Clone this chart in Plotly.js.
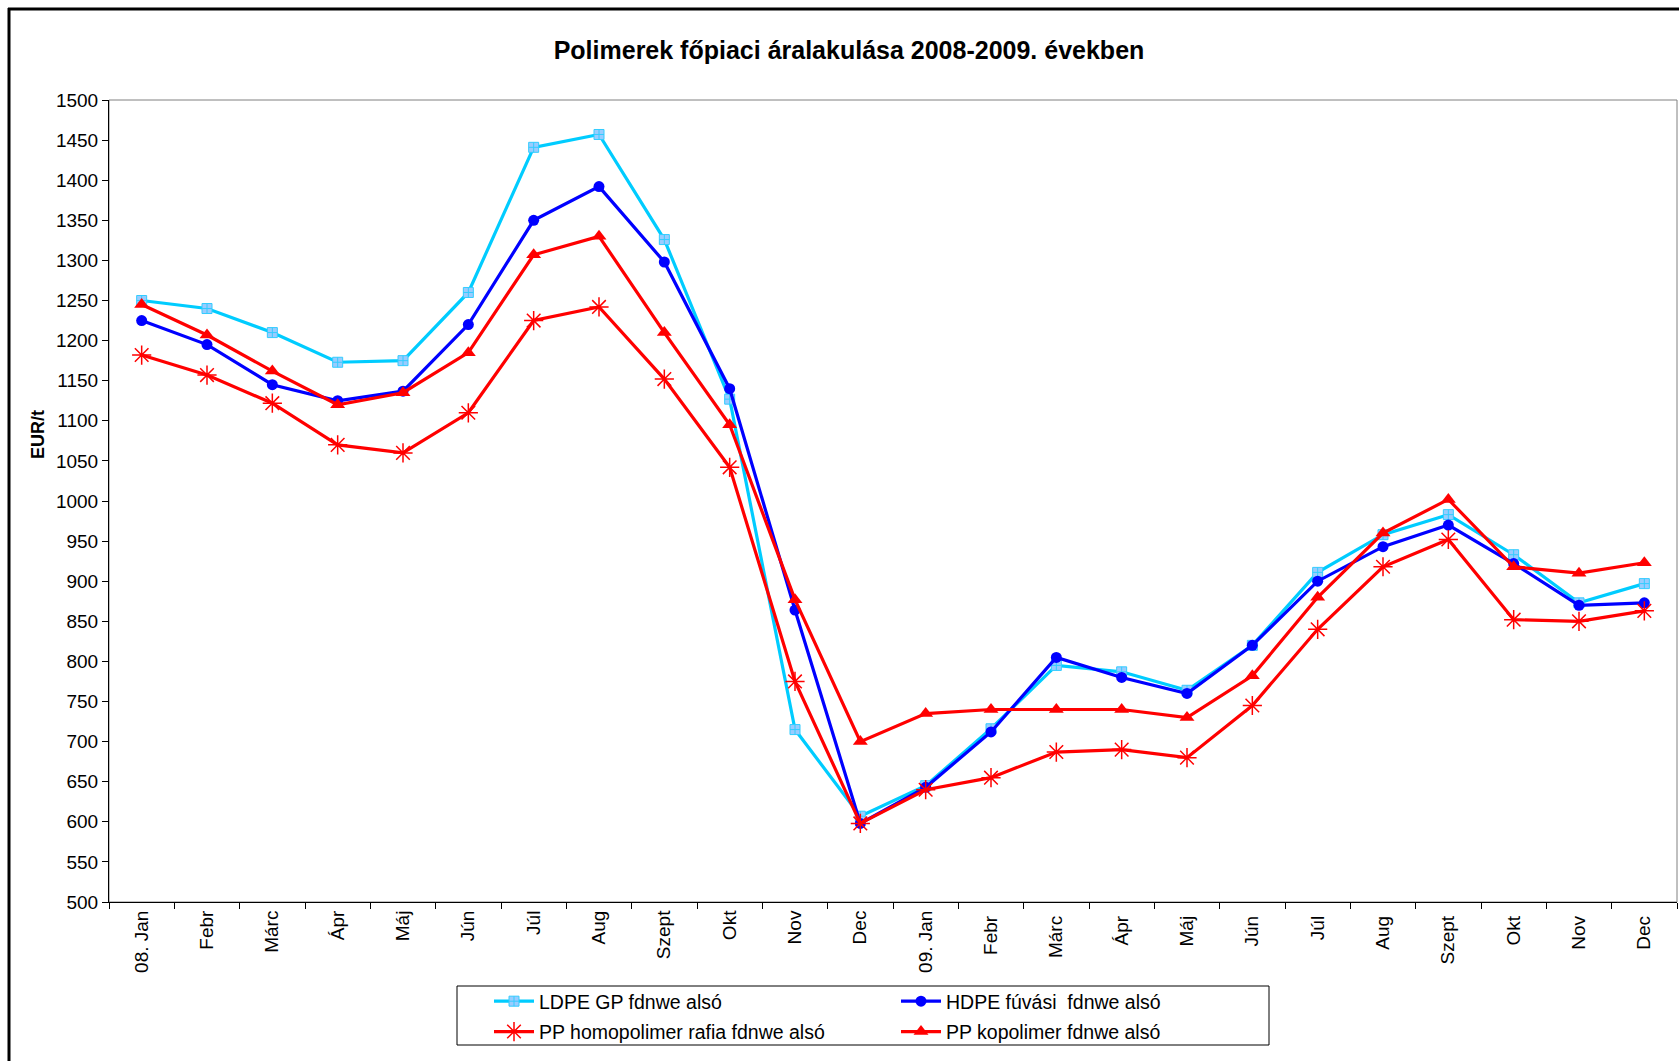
<!DOCTYPE html>
<html>
<head>
<meta charset="utf-8">
<script src="https://cdn.plot.ly/plotly-3.0.1.min.js"></script>
<style>
html,body{margin:0;padding:0;background:#fff;}
#chart{width:1679px;height:1061px;}
</style>
</head>
<body>
<div id="chart"></div>
<script>
const categories = ["08. Jan","Febr","Márc","Ápr","Máj","Jún","Júl","Aug","Szept","Okt","Nov","Dec",
                    "09. Jan","Febr ","Márc ","Ápr ","Máj ","Jún ","Júl ","Aug ","Szept ","Okt ","Nov ","Dec "];
const ldpe   = [1250,1240,1210,1173,1175,1260,1441,1457,1326,1127,715,607, 645,716,795,787,764,820,911,958,983,933,873,897];
const hdpe   = [1225,1195,1145,1125,1137,1220,1350,1392,1298,1140,864,598, 643,712,805,780,760,820,900,943,970,922,870,873];
const ppHomo = [1182,1157,1122,1070,1060,1110,1225,1242,1152,1042,775,598, 640,655,687,690,680,745,840,918,952,852,850,863];
const ppKopo = [1245,1207,1162,1120,1135,1185,1307,1330,1210,1095,877,700, 735,740,740,740,730,782,880,960,1002,918,910,923];
const seriesNames = ["LDPE GP fdnwe alsó","HDPE fúvási  fdnwe alsó","PP homopolimer rafia fdnwe alsó","PP kopolimer fdnwe alsó"];
const yTicks = [500,550,600,650,700,750,800,850,900,950,1000,1050,1100,1150,1200,1250,1300,1350,1400,1450,1500];

const FONT = "'Liberation Sans', Arial, sans-serif";
const W = 1679, H = 1061;
const M = {l:109, r:2, t:100, b:159};
const pw = W - M.l - M.r, ph = H - M.t - M.b;
const px = x => (x - M.l) / pw;
const py = y => (H - M.b - y) / ph;

const traces = [
  {name: seriesNames[0], y: ldpe, legend: 'legend', legendgroup: 'a',
   line: {color: '#00CCFF', width: 3.2},
   marker: {symbol: 'square-cross', size: 10, color: '#99CCFF', line: {color: '#33CCFF', width: 1}}},
  {name: seriesNames[1], y: hdpe, legend: 'legend2', legendgroup: 'b',
   line: {color: '#0000FF', width: 3.2},
   marker: {symbol: 'circle', size: 11, color: '#0000FF'}},
  {name: seriesNames[2], y: ppHomo, legend: 'legend', legendgroup: 'c',
   line: {color: '#FF0000', width: 3.2},
   marker: {symbol: 'asterisk-open', size: 16, color: '#FF0000', line: {color: '#FF0000', width: 1.5}}},
  {name: seriesNames[3], y: ppKopo, legend: 'legend2', legendgroup: 'd',
   line: {color: '#FF0000', width: 3.2},
   marker: {symbol: 'triangle-up', size: 13, color: '#FF0000'}}
].map(t => Object.assign({type: 'scatter', mode: 'lines+markers', x: categories, cliponaxis: false}, t));

const legendCommon = {
  orientation: 'v', bgcolor: 'rgba(0,0,0,0)', borderwidth: 0,
  font: {family: FONT, size: 19.5, color: '#000'}, tracegroupgap: 2, itemwidth: 40,
  xanchor: 'left', yanchor: 'top', itemclick: false
};

const layout = {
  width: W, height: H,
  margin: M,
  paper_bgcolor: '#fff', plot_bgcolor: '#fff',
  font: {family: FONT, size: 19, color: '#000'},
  title: {text: '<b>Polimerek főpiaci áralakulása 2008-2009. években</b>',
          font: {family: FONT, size: 25, color: '#000'},
          xref: 'container', x: 849/W, xanchor: 'center',
          yref: 'container', y: 1 - 50/H, yanchor: 'middle'},
  xaxis: {type: 'category', tickson: 'boundaries', ticks: 'outside', ticklen: 6, tickcolor: '#000',
          tickangle: -90, showgrid: false, zeroline: false, showline: true, linecolor: '#000', linewidth: 1,
          tickfont: {family: FONT, size: 19, color: '#000'}, range: [-0.5, 23.5], fixedrange: true},
  yaxis: {range: [500, 1500], tickvals: yTicks, ticktext: yTicks.map(String), ticks: 'outside', ticklen: 6,
          tickcolor: '#000', showgrid: false, zeroline: false, showline: true, linecolor: '#000', linewidth: 1,
          tickfont: {family: FONT, size: 19, color: '#000'}},
  annotations: [
    {text: '<b>EUR/t</b>', xref: 'paper', yref: 'paper', x: px(37.5), y: py(434.5),
     xanchor: 'center', yanchor: 'middle', textangle: -90, showarrow: false,
     font: {family: FONT, size: 18, color: '#000'}}
  ],
  legend: Object.assign({x: px(489), y: py(982)}, legendCommon),
  legend2: Object.assign({x: px(896), y: py(982)}, legendCommon),
  shapes: [
    {type: 'rect', xref: 'paper', yref: 'paper', x0: 0, x1: 1, y0: 0, y1: 1,
     line: {color: '#808080', width: 1}, layer: 'below'},
    {type: 'rect', xref: 'paper', yref: 'paper', x0: px(457), x1: px(1269), y0: py(986), y1: py(1045),
     line: {color: '#000', width: 1}, fillcolor: 'rgba(0,0,0,0)'},
    {type: 'line', xref: 'paper', yref: 'paper', x0: px(9), x1: px(9), y0: py(8), y1: py(1070),
     line: {color: '#000', width: 3}},
    {type: 'line', xref: 'paper', yref: 'paper', x0: px(8), x1: px(1690), y0: py(9), y1: py(9),
     line: {color: '#000', width: 3}}
  ],
  showlegend: true
};

Plotly.newPlot('chart', traces, layout, {displayModeBar: false, staticPlot: true});
</script>
</body>
</html>
